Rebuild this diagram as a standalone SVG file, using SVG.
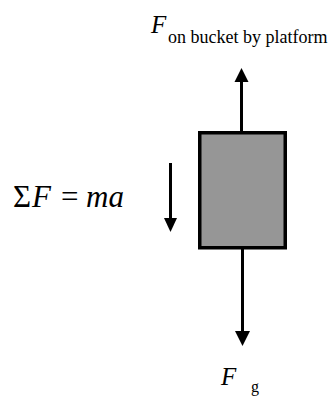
<svg xmlns="http://www.w3.org/2000/svg" width="334" height="397" viewBox="0 0 334 397">
<rect width="334" height="397" fill="#fff"/>
<g id="connectors" stroke="#000" stroke-width="3" fill="none">
<line x1="241.5" y1="80" x2="241.5" y2="132"/>
<polygon points="241.5,68 234.5,82 248.5,82" fill="#000" stroke="none"/>
<line x1="242.5" y1="249" x2="242.5" y2="333"/>
<polygon points="242.5,346 235,331 250,331" fill="#000" stroke="none"/>
<line x1="170.5" y1="163" x2="170.5" y2="220"/>
<polygon points="170.5,232 164,218 177,218" fill="#000" stroke="none"/>
</g>
<g id="bucket">
<rect x="199.75" y="132.75" width="85.5" height="115" fill="#969696" stroke="#000" stroke-width="3.5"/>
</g>
<g id="label-top">
<text x="151" y="33" font-size="25" font-family="Times New Roman" font-style="italic">F</text>
<text x="168" y="43" font-size="18" font-family="Times New Roman">on bucket by platform</text>
</g>
<g id="label-bottom">
<text x="221" y="385" font-size="25" font-family="Times New Roman" font-style="italic">F</text>
<text x="251" y="392" font-size="16" font-family="Times New Roman">g</text>
</g>
<g id="equation">
<text x="13" y="207" font-size="31" font-family="Times New Roman">&#931;</text>
<text x="32" y="207" font-size="31" font-family="Times New Roman" font-style="italic">F</text>
<text x="61" y="207" font-size="31" font-family="Times New Roman">=</text>
<text x="86" y="207" font-size="31" font-family="Times New Roman" font-style="italic">ma</text>
</g>
</svg>
